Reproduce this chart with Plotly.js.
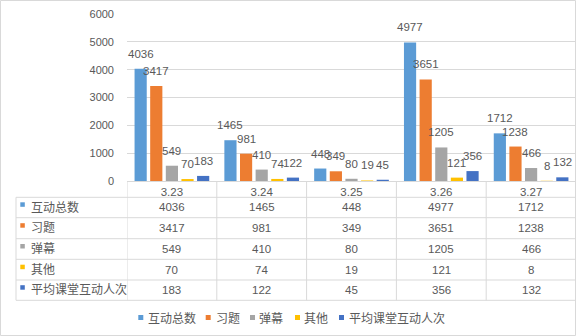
<!DOCTYPE html>
<html><head><meta charset="utf-8">
<script src="https://cdn.plot.ly/plotly-3.0.1.min.js"></script>
<style>html,body{margin:0;padding:0;background:#fff}#chart{width:576px;height:336px}</style>
</head><body><div id="chart"></div>
<script>
const categories = ['3.23','3.24','3.25','3.26','3.27'];
const seriesNames = ['互动总数','习题','弹幕','其他','平均课堂互动人次'];
const totalInteractions = [4036,1465,448,4977,1712];
const exercises = [3417,981,349,3651,1238];
const danmaku = [549,410,80,1205,466];
const others = [70,74,19,121,8];
const avgPerClass = [183,122,45,356,132];
const yTicks = [0,1000,2000,3000,4000,5000,6000];

const seriesValues = [totalInteractions, exercises, danmaku, others, avgPerClass];
const colors = ['#5B9BD5','#ED7D31','#A5A5A5','#FFC000','#4472C4'];
const FONT = 'Liberation Sans, Noto Sans CJK SC, sans-serif';
const TXT = '#595959';
const GRID = '#d9d9d9';

// layout geometry (pixels)
const W = 576, H = 336, ML = 127, MR = 0, MT = 14, MB = 155;
const PW = W - ML - MR, PH = H - MT - MB;
const px = p => (p - ML) / PW;
const py = p => (H - MB - p) / PH;
const BARGAP = 0.13, GROUPGAP = 0.22;
const slot = (1 - BARGAP) / seriesNames.length;

const rowLines = [197.3, 217.7, 238.7, 259.3, 280, 300.3];
const rowCenters = [207.3, 228.2, 249, 269.7, 290.2];
const legendSquareX = [138.3, 205.7, 250, 295, 339];
const legendTextX = [147.3, 215, 258, 302.7, 347.7];
const legendY = 318.5;

const data = seriesNames.map((name, k) => ({
  type: 'bar', name: name, x: categories, y: seriesValues[k],
  marker: {color: colors[k]}, hoverinfo: 'x+y+name'
}));

const annotations = [];
const shapes = [];

// data labels
seriesValues.forEach((vals, k) => {
  vals.forEach((v, i) => {
    annotations.push({
      xref: 'x', yref: 'y', x: i + (k - 2) * slot, y: v,
      text: String(v), showarrow: false, yanchor: 'bottom', yshift: 7,
      font: {family: FONT, size: 11.5, color: TXT}
    });
  });
});

// table cells
seriesValues.forEach((vals, k) => {
  vals.forEach((v, i) => {
    annotations.push({
      xref: 'x', yref: 'paper', x: i, y: py(rowCenters[k]),
      text: String(v), showarrow: false, yanchor: 'middle',
      font: {family: FONT, size: 11.5, color: TXT}
    });
  });
  annotations.push({
    xref: 'paper', yref: 'paper', x: px(28.5), y: py(rowCenters[k]),
    text: seriesNames[k], showarrow: false, xanchor: 'left', yanchor: 'middle',
    font: {family: FONT, size: 12, color: TXT}
  });
  shapes.push({
    type: 'rect', xref: 'paper', yref: 'paper',
    x0: px(20.3), x1: px(24.8), y0: py(rowCenters[k] - 5), y1: py(rowCenters[k] - 0.5),
    fillcolor: colors[k], line: {width: 0}
  });
  // legend
  annotations.push({
    xref: 'paper', yref: 'paper', x: px(legendTextX[k]), y: py(legendY),
    text: seriesNames[k], showarrow: false, xanchor: 'left', yanchor: 'middle',
    xshift: -1, font: {family: FONT, size: 12, color: TXT}
  });
  shapes.push({
    type: 'rect', xref: 'paper', yref: 'paper',
    x0: px(legendSquareX[k]), x1: px(legendSquareX[k] + 5),
    y0: py(legendY - 3.5), y1: py(legendY + 1.5),
    fillcolor: colors[k], line: {width: 0}
  });
});

// table lines
rowLines.forEach(r => {
  shapes.push({type: 'line', xref: 'paper', yref: 'paper', x0: px(16), x1: 1,
    y0: py(r), y1: py(r), line: {color: GRID, width: 1}});
});
shapes.push({type: 'line', xref: 'paper', yref: 'paper', x0: px(16), x1: px(16),
  y0: py(rowLines[0]), y1: py(rowLines[rowLines.length - 1]), line: {color: GRID, width: 1}});
categories.forEach((c, i) => {
  shapes.push({type: 'line', xref: 'x', yref: 'paper', x0: i - 0.5, x1: i - 0.5,
    y0: 0, y1: py(rowLines[rowLines.length - 1]), line: {color: GRID, width: 1}});
});
// outer border
shapes.push({type: 'rect', xref: 'paper', yref: 'paper', x0: px(0.5), x1: px(575.5),
  y0: py(335.5), y1: py(0.5), line: {color: GRID, width: 1}, fillcolor: 'rgba(0,0,0,0)'});

const layout = {
  width: W, height: H,
  margin: {l: ML, r: MR, t: MT, b: MB},
  paper_bgcolor: '#fff', plot_bgcolor: '#fff',
  showlegend: false,
  barmode: 'group', bargap: BARGAP, bargroupgap: GROUPGAP,
  font: {family: FONT, color: TXT},
  xaxis: {
    type: 'category', range: [-0.5, 4.5], showgrid: false, zeroline: false,
    showline: true, linecolor: GRID, linewidth: 1, ticks: '',
    tickfont: {family: FONT, size: 11.5, color: TXT}, fixedrange: true
  },
  yaxis: {
    range: [0, 6000], tickvals: yTicks, ticktext: yTicks.map(String),
    showgrid: true, gridcolor: GRID, gridwidth: 1, zeroline: false, showline: false,
    ticks: '', ticklabelstandoff: 12,
    tickfont: {family: FONT, size: 11, color: TXT}, fixedrange: true
  },
  annotations: annotations,
  shapes: shapes
};

Plotly.newPlot('chart', data, layout, {displayModeBar: false, staticPlot: true});
</script>
</body></html>
